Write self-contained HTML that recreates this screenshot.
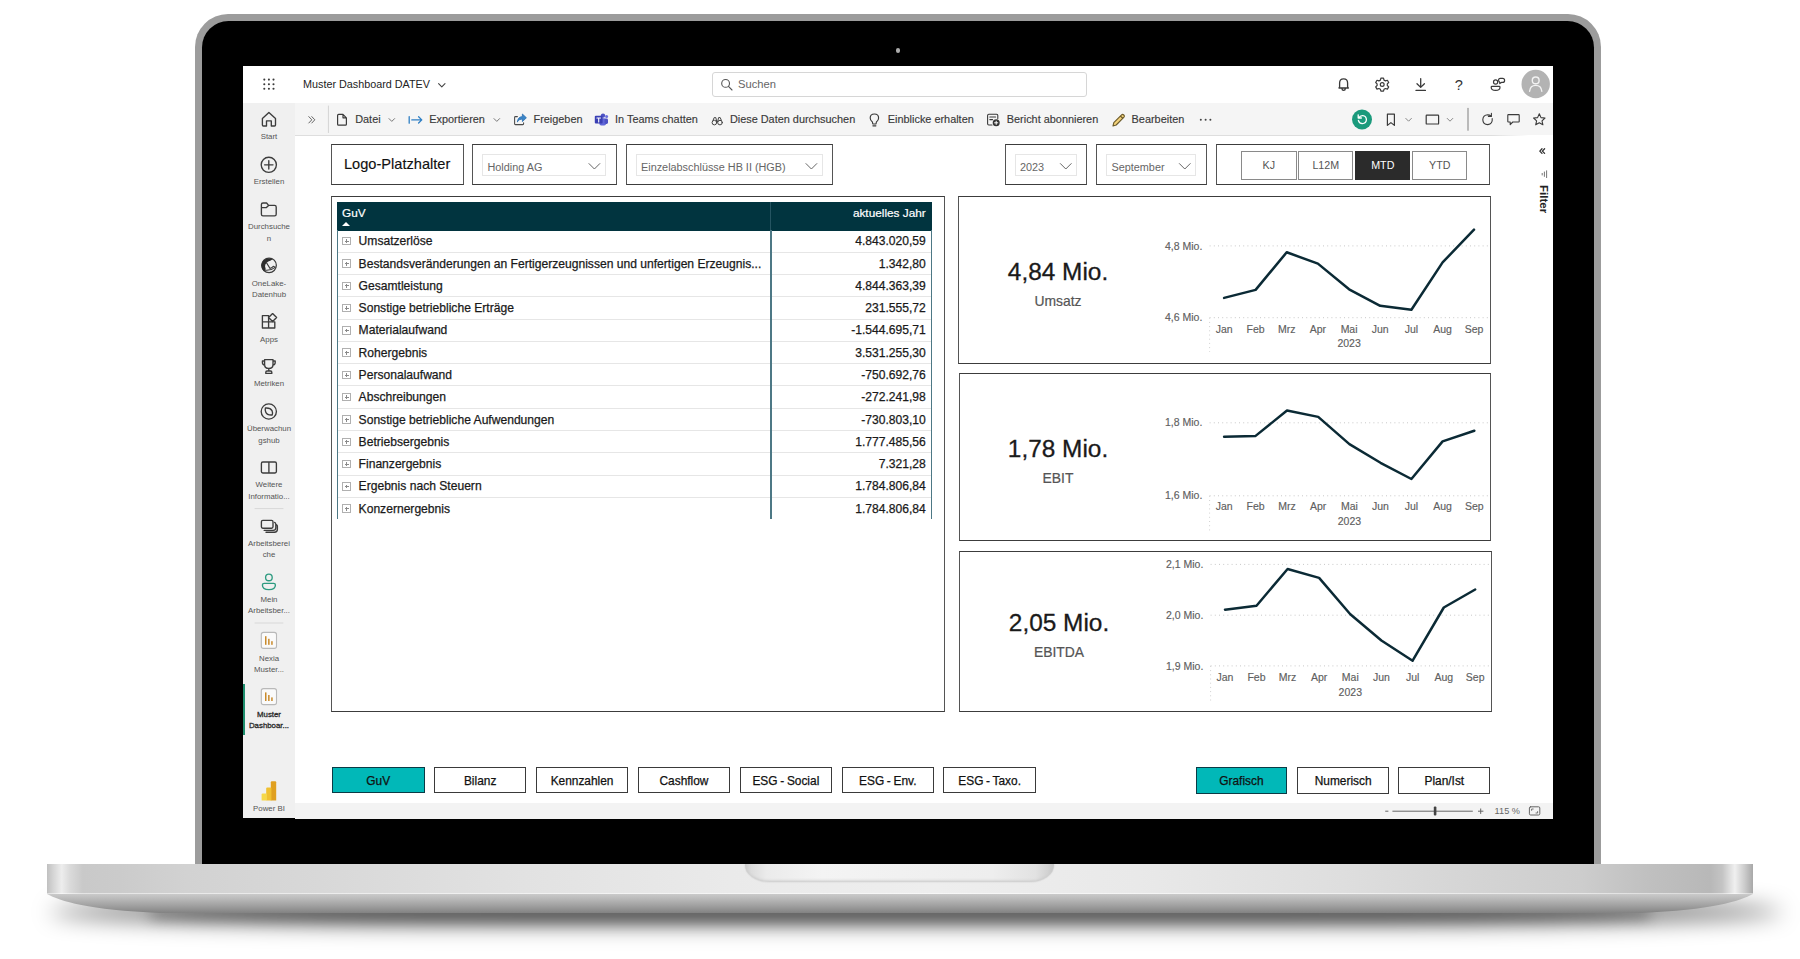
<!DOCTYPE html>
<html lang="de"><head><meta charset="utf-8"><title>Muster Dashboard DATEV</title>
<style>
html,body{margin:0;padding:0;background:#fff;}
body{width:1800px;height:959px;overflow:hidden;font-family:"Liberation Sans",sans-serif;}
#root{position:relative;width:1800px;height:959px;overflow:hidden;background:#fff;}
#root div,#root span,#root svg{position:absolute;box-sizing:border-box;}
/* laptop */
#shadow{left:50px;top:899px;width:1732px;height:26px;background:rgba(0,0,0,.54);filter:blur(11px);border-radius:50%/100%;}
#shadow2{left:150px;top:906px;width:1500px;height:16px;background:rgba(0,0,0,.38);filter:blur(7px);border-radius:30%;}
#lid{left:195px;top:14px;width:1406px;height:851px;background:#9c9c9c;border-radius:33px 33px 0 0;}
#bezel{left:202px;top:21px;width:1392px;height:844px;background:#000;border-radius:26.5px 26.5px 0 0;}
#cam{left:895.7px;top:47.8px;width:4.8px;height:4.8px;border-radius:50%;background:#ababab;}
#base{left:47px;top:864px;width:1706px;height:30.2px;background:linear-gradient(90deg,#c0c0c0 0,#d4d4d4 .35%,#ededed .86%,#dadada 1.35%,#c9c9c9 2.1%,#cbcbcb 4.3%,#d2d2d2 8.2%,#d8d8d8 16%,#e2e2e2 28%,#eaeaea 40%,#eeeeee 52%,#e9e9e9 64%,#dedede 76%,#d4d4d4 84%,#cdcdcd 89.9%,#c0c0c0 93.8%,#b8b8b8 97.5%,#c4c4c4 98.2%,#f0f0f0 98.94%,#cccccc 99.5%,#a8a8a8 100%);border-bottom:1px solid rgba(255,255,255,.5);}
#basebot{left:0;top:0;}
#notch{left:745px;top:864px;width:309px;height:18.2px;background:linear-gradient(90deg,#c9c9c9 0,#dcdcdc 2%,#ebebeb 7%,#f4f4f4 25%,#f1f1f1 50%,#eeeeee 80%,#e2e2e2 94%,#d2d2d2 98%,#c4c4c4 100%);border-radius:0 0 24px 24px/0 0 17px 17px;box-shadow:inset 0 -2.5px 2.5px -1px #cdcdcd, 0 0 1.5px rgba(0,0,0,.18);}
/* screen */
#screen{left:243px;top:66.3px;width:1310px;height:752.2px;background:#fff;overflow:hidden;}
#hdr{left:243px;top:66.3px;width:1310px;height:37.2px;background:#fff;}
#nav{left:243px;top:103.4px;width:52px;height:715.1px;background:#f0f0f0;}
#tool{left:295px;top:103.4px;width:1258px;height:31.8px;background:#f5f5f5;}
#toolline{left:295px;top:134.9px;width:1234px;height:1px;background:linear-gradient(90deg,#dedede 0,#dedede 97%,#fff 100%);}
#status{left:295px;top:802.5px;width:1258px;height:16px;background:#f3f3f3;}
.t{white-space:nowrap;line-height:1;}
.box{border:1.8px solid #3c3c3c;border-left-color:#555;border-right-color:#555;background:#fff;}
.btn{border:1.5px solid #3a3a3a;background:#fff;font-size:11.9px;color:#111;text-align:center;line-height:26.6px;height:26.3px;width:92.5px;-webkit-text-stroke:.25px #111;word-spacing:-.6px;}
.btn.on{background:#01b8b8;border-color:#0a3b45;}
.seg{border:1.2px solid #8a8a8a;background:#fff;font-size:10.7px;color:#555;text-align:center;line-height:26px;height:28.4px;top:151.2px;}
.seg.on{background:#2b2b2b;border-color:#2b2b2b;color:#fff;}
.dd{border:1px solid #e6e6e6;}
.ddt{font-size:10.85px;color:#666;white-space:nowrap;line-height:1;}
/* table */
#tbl{left:0;top:0;width:0;height:0;}
.th{left:337px;top:202.4px;width:594.5px;height:28.5px;background:#01343f;color:#fff;font-size:11.8px;-webkit-text-stroke:.2px #fff;}
.thl{left:5px;top:5.8px;line-height:1;}
.thr{right:5.8px;top:5.8px;line-height:1;}
.sortarrow{left:5.4px;top:19.8px;width:0;height:0;border-left:4.5px solid transparent;border-right:4.5px solid transparent;border-bottom:4.5px solid #fff;}
.tr{left:338px;width:593px;height:22.28px;border-bottom:1px solid #e6e6e6;font-size:12.1px;color:#1a1a1a;-webkit-text-stroke:.25px #1a1a1a;}
.pm{left:4.4px;top:6.6px;width:8.4px;height:8.4px;border:1px solid #b0b0b0;}
.pm:before{content:"";position:absolute;left:1.4px;top:2.8px;width:3.8px;height:1px;background:#8a8a8a;}
.pm:after{content:"";position:absolute;left:2.8px;top:1.4px;width:1px;height:3.8px;background:#8a8a8a;}
.rl{left:20.6px;top:4.8px;line-height:1;white-space:nowrap;}
.rv{right:5.2px;top:4.8px;line-height:1;white-space:nowrap;}
.vline1{left:336.9px;top:230px;width:1.5px;height:288.6px;background:#4d7885;}
.vline2{left:770px;top:230px;width:1.5px;height:288.6px;background:#4d7885;}
.vline3{left:930.8px;top:230px;width:1.5px;height:288.6px;background:#4d7885;}
/* charts */
.big{font-size:25px;color:#1a1a1a;white-space:nowrap;line-height:1;text-align:center;width:200px;}
.sub{font-size:13.6px;color:#5a5a5a;white-space:nowrap;line-height:1;text-align:center;width:200px;}
svg text{font-family:"Liberation Sans",sans-serif;}
/* nav */
.nl{font-size:7.85px;color:#555;text-align:center;line-height:11.3px;width:52px;left:243px;white-space:nowrap;}
.ti{font-size:10.9px;color:#3a3a3a;-webkit-text-stroke:.15px #3a3a3a;white-space:nowrap;line-height:1;top:114.1px;}
.vline4{left:770px;top:202.4px;width:1.4px;height:28px;background:#255461;}

</style></head>
<body>
<div id="root">
<div id="shadow"></div><div id="shadow2"></div>
<div id="lid"></div><div id="bezel"></div><div id="cam"></div>
<div id="base"></div><svg id="basebot" width="1800" height="959" viewBox="0 0 1800 959"><defs><linearGradient id="bbg" x1="0" y1="0" x2="0" y2="1"><stop offset="0" stop-color="#cacaca"/><stop offset=".3" stop-color="#b6b6b6"/><stop offset=".7" stop-color="#9a9a9a"/><stop offset="1" stop-color="#828282"/></linearGradient></defs><path d="M47 894 H1753 C1740 901 1712 910 1640 913 H160 C88 910 60 901 47 894 Z" fill="url(#bbg)"/></svg><div id="notch"></div>
<div id="screen"></div>
<div id="hdr"></div><div id="nav"></div><div id="tool"></div><div id="toolline"></div><div id="status"></div>
<!-- header -->
<div class="t" style="left:303px;top:79px;font-size:10.8px;color:#222;">Muster Dashboard DATEV</div>
<div style="left:711.5px;top:71.5px;width:375px;height:25.5px;border:1px solid #d6d6d6;border-radius:3px;background:#fff;"></div>
<div class="t" style="left:738px;top:79px;font-size:11.2px;color:#666;">Suchen</div>
<!-- slicers -->
<div class="box" style="left:330.8px;top:143.8px;width:133px;height:41.2px;"></div>
<div class="t" style="left:344px;top:157.4px;font-size:14.6px;color:#111;-webkit-text-stroke:.15px #111;">Logo-Platzhalter</div>
<div class="box" style="left:472px;top:143.8px;width:144.6px;height:41.2px;"></div>
<div class="dd" style="left:482px;top:154px;width:124px;height:22px;"></div>
<div class="ddt" style="left:487.5px;top:161.5px;">Holding AG</div>
<div class="box" style="left:625.8px;top:143.8px;width:207.6px;height:41.2px;"></div>
<div class="dd" style="left:635.5px;top:154px;width:187px;height:22px;"></div>
<div class="ddt" style="left:641px;top:161.5px;">Einzelabschlüsse HB II (HGB)</div>
<div class="box" style="left:1004.6px;top:143.8px;width:82.4px;height:41.2px;"></div>
<div class="dd" style="left:1014.5px;top:154px;width:62px;height:22px;"></div>
<div class="ddt" style="left:1020px;top:161.5px;">2023</div>
<div class="box" style="left:1096.2px;top:143.8px;width:111px;height:41.2px;"></div>
<div class="dd" style="left:1106px;top:154px;width:90px;height:22px;"></div>
<div class="ddt" style="left:1111.5px;top:161.5px;">September</div>
<div class="box" style="left:1216px;top:143.8px;width:274.2px;height:41.2px;"></div>
<div class="seg" style="left:1241px;width:55.6px;">KJ</div>
<div class="seg" style="left:1298.3px;width:55px;">L12M</div>
<div class="seg on" style="left:1355.3px;width:55px;">MTD</div>
<div class="seg" style="left:1412.3px;width:55px;">YTD</div>
<!-- table frame -->
<div class="box" style="left:331.1px;top:196.1px;width:613.7px;height:515.8px;"></div>
<!-- chart frames -->
<div class="box" style="left:958.1px;top:196.1px;width:532.7px;height:167.5px;"></div>
<div class="box" style="left:958.5px;top:373.2px;width:532.3px;height:167.9px;"></div>
<div class="box" style="left:959px;top:551.1px;width:533px;height:160.8px;"></div>
<!-- bottom buttons -->
<div class="btn on" style="left:332px;top:766.7px;">GuV</div>
<div class="btn" style="left:433.9px;top:766.7px;">Bilanz</div>
<div class="btn" style="left:535.8px;top:766.7px;">Kennzahlen</div>
<div class="btn" style="left:637.7px;top:766.7px;">Cashflow</div>
<div class="btn" style="left:739.6px;top:766.7px;">ESG - Social</div>
<div class="btn" style="left:841.5px;top:766.7px;">ESG - Env.</div>
<div class="btn" style="left:943.4px;top:766.7px;">ESG - Taxo.</div>
<div class="btn on" style="left:1195.6px;top:767.3px;width:91.7px;">Grafisch</div>
<div class="btn" style="left:1297.3px;top:767.3px;width:91.7px;">Numerisch</div>
<div class="btn" style="left:1398.2px;top:767.3px;width:92.3px;">Plan/Ist</div>

<!-- left nav icons & labels -->
<svg id="navsvg" style="left:0;top:0" width="1800" height="959" viewBox="0 0 1800 959" fill="none" stroke="#3c3c3c" stroke-width="1.35" stroke-linejoin="round" stroke-linecap="round">
<!-- home -->
<path d="M262.4 118.6 L268.9 112.4 L275.5 118.6 V125 Q275.5 126 274.5 126 H271.3 V120.8 H266.5 V126 H263.4 Q262.4 126 262.4 125 Z"/>
<!-- create -->
<circle cx="268.8" cy="164.8" r="7.6"/><path d="M268.8 160.6 V169 M264.6 164.8 H273"/>
<!-- folder -->
<path d="M261.4 214.2 V204.6 Q261.4 203 263 203 H266.6 L268.6 205.4 H274.6 Q276.2 205.4 276.2 207 V214.2 Q276.2 215.8 274.6 215.8 H263 Q261.4 215.8 261.4 214.2 Z M261.4 207.6 H266.4 L268.6 205.4"/>
<!-- onelake -->
<circle cx="269.05" cy="265.3" r="7.3" stroke-width="1.25"/>
<path d="M272.6 259.3 A7.9 7.9 0 0 0 261.2 265.3 A7.9 7.9 0 0 0 264.2 271.4 L265 270.4 Q265.9 269.6 265.6 268.4 Q264.7 266.4 265.3 264.7 Q266 262.9 267.5 261.9 Q268.8 261 270.3 260.7 Z" fill="#2e2e2e" stroke="none"/>
<path d="M266.4 262.6 L270 268.4 Q272.4 267.8 273.3 266.3 L275.2 267.2 M265.2 270.2 Q270.8 270.8 275.2 267.3" stroke-width="1.05"/>
<!-- apps -->
<path d="M262.4 315.6 H268.6 V321.8 H262.4 Z M262.4 321.8 H268.6 V328 H262.4 Z M268.6 321.8 H274.8 V328 H268.6 Z"/>
<path d="M272.6 313.6 L276.6 317.6 L272.6 321.6 L268.6 317.6 Z"/>
<!-- trophy -->
<path d="M264.6 359.6 H273 V364.4 Q273 368.4 268.8 368.4 Q264.6 368.4 264.6 364.4 Z M264.6 361 H262.4 V362.6 Q262.4 365 264.8 365.4 M273 361 H275.2 V362.6 Q275.2 365 272.8 365.4 M268.8 368.4 V371 M265.8 373.4 V372.2 Q265.8 371 267 371 H270.6 Q271.8 371 271.8 372.2 V373.4 Z"/>
<!-- monitor hub -->
<circle cx="268.8" cy="411.5" r="7.6"/>
<path d="M265.4 408 Q270.4 407.6 272 410.6 Q273 413.2 272.2 415 Q267.2 415.4 265.8 412.2 Q264.8 410 265.4 408 Z"/>
<!-- learn (book) -->
<path d="M261.4 463.4 Q261.4 462 262.8 462 H268.9 V473 H262.8 Q261.4 473 261.4 471.6 Z M268.9 462 H275 Q276.4 462 276.4 463.4 V471.6 Q276.4 473 275 473 H268.9"/>
<!-- workspaces -->
<rect x="261.4" y="520.4" width="11.6" height="7.8" rx="1.4"/>
<path d="M274.6 522.4 Q275.8 522.8 275.8 524.2 V527.8 Q275.8 530.4 273.2 530.4 H264.2 M276.6 524.8 Q277.4 525.2 277.4 526.4 V529.2 Q277.4 532.2 274.4 532.2 H266"/>
<!-- my workspace (green) -->
<g stroke="#2d9b80"><circle cx="268.9" cy="577.4" r="3.3"/><path d="M264.2 583.4 H273.6 Q275.4 583.4 275.4 585 Q275.4 589.6 268.9 589.6 Q262.4 589.6 262.4 585 Q262.4 583.4 264.2 583.4 Z"/></g>
<!-- separators -->
<path d="M255 508.6 H283" stroke="#d8d8d8" stroke-width="1"/><path d="M255 623 H283" stroke="#d8d8d8" stroke-width="1"/>
<!-- report tiles -->
<g stroke="#b9b9b9" stroke-width="1.1" fill="#fafafa"><rect x="261.3" y="632.4" width="15.2" height="16" rx="2.2"/><rect x="261.3" y="688.6" width="15.2" height="16" rx="2.2"/></g>
<g stroke="none" fill="#c98a2b"><rect x="265" y="636.2" width="1.5" height="8.6"/><rect x="268.1" y="638.8" width="1.5" height="6"/><rect x="271.2" y="641.2" width="1.5" height="3.6"/>
<rect x="265" y="692.4" width="1.5" height="8.6"/><rect x="268.1" y="695" width="1.5" height="6"/><rect x="271.2" y="697.4" width="1.5" height="3.6"/></g>
<!-- power bi -->
<g stroke="none"><path d="M270.8 782.2 Q270.8 781.2 271.8 781.2 H275.2 Q276.2 781.2 276.2 782.2 V800.4 H270.8 Z" fill="#e0a020"/>
<path d="M266.2 788.6 Q266.2 787.6 267.2 787.6 H270.4 Q271.4 787.6 271.4 788.6 V800.4 H266.2 Z" fill="#f0c030"/>
<path d="M261.6 794.4 Q261.6 793.4 262.6 793.4 H265.8 Q266.8 793.4 266.8 794.4 V799.4 Q266.8 800.4 265.8 800.4 H261.6 Z" fill="#f6d84a"/></g>
</svg>
<div style="left:243.2px;top:683.6px;width:1.7px;height:51px;background:#1f8f6f;"></div>
<div class="nl" style="top:131.4px">Start</div>
<div class="nl" style="top:176.4px">Erstellen</div>
<div class="nl" style="top:221.4px">Durchsuche<br>n</div>
<div class="nl" style="top:277.5px">OneLake-<br>Datenhub</div>
<div class="nl" style="top:333.5px">Apps</div>
<div class="nl" style="top:378px">Metriken</div>
<div class="nl" style="top:423.3px">Überwachun<br>gshub</div>
<div class="nl" style="top:479.4px">Weitere<br>Informatio...</div>
<div class="nl" style="top:537.6px">Arbeitsberei<br>che</div>
<div class="nl" style="top:594px">Mein<br>Arbeitsber...</div>
<div class="nl" style="top:652.5px">Nexia<br>Muster...</div>
<div class="nl" style="top:708.6px;color:#2a2a2a;-webkit-text-stroke:.3px #2a2a2a;">Muster<br>Dashboar...</div>
<div class="nl" style="top:803px">Power BI</div>
<!-- header + toolbar icons -->
<svg id="toolsvg" style="left:0;top:0" width="1800" height="959" viewBox="0 0 1800 959" fill="none" stroke="#3a3a3a" stroke-width="1.2" stroke-linejoin="round" stroke-linecap="round">
<!-- waffle -->
<g fill="#3a3a3a" stroke="none">
<circle cx="264.3" cy="79.6" r="1.05"/><circle cx="268.9" cy="79.6" r="1.05"/><circle cx="273.5" cy="79.6" r="1.05"/>
<circle cx="264.3" cy="84.2" r="1.05"/><circle cx="268.9" cy="84.2" r="1.05"/><circle cx="273.5" cy="84.2" r="1.05"/>
<circle cx="264.3" cy="88.8" r="1.05"/><circle cx="268.9" cy="88.8" r="1.05"/><circle cx="273.5" cy="88.8" r="1.05"/>
</g>
<!-- title chevron -->
<path d="M438.6 83.6 L441.8 86.8 L445 83.6" stroke="#444" stroke-width="1.1"/>
<!-- search icon -->
<circle cx="725.6" cy="83.4" r="3.9" stroke="#555" stroke-width="1.1"/><path d="M728.5 86.4 L732 90" stroke="#555" stroke-width="1.1"/>
<!-- bell -->
<path d="M1339 88 Q1339.2 87.4 1339.6 86.8 V83 Q1339.6 78.9 1343.6 78.9 Q1347.6 78.9 1347.6 83 V86.8 Q1348 87.4 1348.4 88 Z M1341.9 88.4 Q1342 90.3 1343.6 90.3 Q1345.3 90.3 1345.4 88.4" stroke-width="1.3"/>
<!-- gear -->
<circle cx="1382.2" cy="84.5" r="1.9" stroke-width="1.2"/>
<path d="M1380.9 78.2 h2.6 l.5 1.9 l1.5 .8 l1.9 -.6 l1.3 2.2 l-1.4 1.4 v1.6 l1.4 1.4 l-1.3 2.2 l-1.9 -.6 l-1.5 .8 l-.5 1.9 h-2.6 l-.5 -1.9 l-1.5 -.8 l-1.9 .6 l-1.3 -2.2 l1.4 -1.4 v-1.6 l-1.4 -1.4 l1.3 -2.2 l1.9 .6 l1.5 -.8 z" stroke-width="1.2"/>
<!-- download -->
<path d="M1420.7 78.6 V87.2 M1417 83.8 L1420.7 87.4 L1424.4 83.8 M1416 90.4 H1425.4" stroke-width="1.3"/>
<!-- people feedback -->
<circle cx="1495.6" cy="82" r="2.1" stroke-width="1.2"/>
<path d="M1492 86.4 H1499.2 Q1500 86.4 1500 87.2 Q1500 90.4 1495.6 90.4 Q1491.2 90.4 1491.2 87.2 Q1491.2 86.4 1492 86.4 Z" stroke-width="1.2"/>
<path d="M1498.6 80.4 Q1498.4 78.4 1500.4 78.4 H1502.6 Q1504.6 78.4 1504.6 80.4 Q1504.6 82.4 1502.6 82.4 H1501.4 L1499.8 83.6 V82.2 Q1498.8 81.8 1498.6 80.4 Z" stroke-width="1.2"/>
<!-- avatar -->
<circle cx="1535.7" cy="84" r="14.2" fill="#b3b3b3" stroke="none"/>
<circle cx="1535.7" cy="80.4" r="3.4" stroke="#f2f2f2" stroke-width="1.4"/>
<path d="M1529.6 91.2 Q1530.2 85.4 1535.7 85.4 Q1541.2 85.4 1541.8 91.2" stroke="#f2f2f2" stroke-width="1.4"/>
<!-- toolbar: expand chevrons -->
<path d="M308.8 116.6 L311.8 119.8 L308.8 123 M311.8 116.6 L314.8 119.8 L311.8 123" stroke="#666" stroke-width="1"/>
<path d="M328.4 106 V132.6" stroke="#d4d4d4" stroke-width="1"/>
<!-- file -->
<path d="M337.6 115.4 Q337.6 114.4 338.6 114.4 H343 L346.4 117.8 V124.2 Q346.4 125.2 345.4 125.2 H338.6 Q337.6 125.2 337.6 124.2 Z M343 114.4 V117.8 H346.4"/>
<path d="M389 118.6 L391.8 121.4 L394.6 118.6" stroke="#777" stroke-width="1"/>
<!-- export -->
<path d="M409.2 116.6 V123.2 M411.8 119.9 H421.6 M418.6 116.8 L421.8 119.9 L418.6 123" stroke="#2f7fc4" stroke-width="1.3"/>
<path d="M494 118.6 L496.8 121.4 L499.6 118.6" stroke="#777" stroke-width="1"/>
<!-- share -->
<path d="M517.4 116.6 H515.4 Q514.6 116.6 514.6 117.4 V123.8 Q514.6 124.6 515.4 124.6 H522.8 Q523.6 124.6 523.6 123.8 V122.8" stroke="#4a4a4a" stroke-width="1.05"/>
<path d="M517.4 121.6 Q518 116.8 522.4 116.6 V114 L526.4 117.8 L522.4 121.6 V119 Q519.4 118.8 517.4 121.6 Z" fill="#3a85c8" stroke="#2b6fb0" stroke-width=".8"/>
<!-- teams -->
<g stroke="none"><circle cx="603" cy="115.6" r="2.2" fill="#4d52c4"/><circle cx="606.6" cy="116.6" r="1.5" fill="#6a70dc"/>
<rect x="599.4" y="118.2" width="6.6" height="7.4" rx="1.8" fill="#6067d8"/><rect x="604.6" y="118.6" width="3.4" height="5.4" rx="1.4" fill="#4d52c4"/>
<rect x="594.8" y="115.8" width="7.8" height="7.8" rx="1" fill="#3a3fb4"/></g>
<path d="M596.9 118 H600.5 M598.7 118 V122" stroke="#fff" stroke-width="1.1"/>
<!-- binoculars -->
<g stroke="#444" stroke-width="1"><circle cx="714.4" cy="122.6" r="2.3"/><circle cx="720" cy="122.6" r="2.3"/><path d="M713 120.4 L714.2 117.6 H715.8 L716.6 121 M721.4 120.4 L720.2 117.6 H718.6 L717.8 121 M716.6 121.6 H717.8"/></g>
<!-- bulb -->
<path d="M872.4 122 Q870.2 120.4 870.2 118 Q870.2 114 874.4 114 Q878.6 114 878.6 118 Q878.6 120.4 876.4 122 L876 124 H872.8 Z M872.9 125.8 H875.9" stroke-width="1.15"/>
<!-- subscribe -->
<path d="M992 125 H988.8 Q987.6 125 987.6 123.8 V115.4 Q987.6 114.2 988.8 114.2 H996.6 Q997.8 114.2 997.8 115.4 V118.6 M989.8 117 H995.6 M989.8 119.6 H992.6" stroke-width="1.1"/>
<circle cx="996.2" cy="122.8" r="3.5" fill="#333" stroke="none"/><path d="M996.2 121.2 V124.4 M994.6 122.8 H997.8" stroke="#fff" stroke-width="1"/>
<!-- pencil -->
<path d="M1113 126 L1113.8 122.6 L1121.6 114.8 Q1122.6 113.8 1123.8 115 Q1125 116.2 1124 117.2 L1116.2 125 Z M1120.4 116 L1122.8 118.4" stroke="#6b5a2a" stroke-width="1.1" fill="#f3d27a"/>
<!-- more -->
<g fill="#444" stroke="none"><circle cx="1200.8" cy="119.8" r="1"/><circle cx="1205.6" cy="119.8" r="1"/><circle cx="1210.4" cy="119.8" r="1"/></g>
<!-- reset (green) -->
<circle cx="1362" cy="119.5" r="10" fill="#1b9a7c" stroke="none"/>
<path d="M1358.6 117.8 Q1360.2 115.4 1362.8 115.6 Q1366.4 116 1366.4 119.8 Q1366.2 123.4 1362.4 123.6 Q1359 123.4 1358.4 120.4 M1358.2 114.8 V118 H1361.4" stroke="#fff" stroke-width="1.3"/>
<!-- bookmark -->
<path d="M1387.4 114.2 H1394.4 V125.4 L1390.9 122.6 L1387.4 125.4 Z" stroke-width="1.2"/>
<path d="M1405.8 118.4 L1408.6 121.2 L1411.4 118.4" stroke="#888" stroke-width="1"/>
<!-- view rect -->
<rect x="1426.2" y="115.2" width="12.4" height="8.8" rx=".6" stroke-width="1.2"/>
<path d="M1447.2 118.4 L1450 121.2 L1452.8 118.4" stroke="#888" stroke-width="1"/>
<path d="M1468 108.4 V130.2" stroke="#9a9a9a" stroke-width="1.3"/>
<!-- refresh -->
<path d="M1492.2 118.6 Q1492.8 124 1487.8 124.6 Q1483 124.6 1482.8 119.8 Q1483 115 1487.8 114.8 Q1489.6 114.8 1491 116 M1491.4 113.4 V116.4 H1488.4" stroke-width="1.1"/>
<!-- comment -->
<path d="M1508.4 114.6 H1518.6 Q1519.2 114.6 1519.2 115.2 V121.4 Q1519.2 122 1518.6 122 H1512.8 L1510.2 124.6 V122 H1508.4 Q1507.8 122 1507.8 121.4 V115.2 Q1507.8 114.6 1508.4 114.6 Z" stroke-width="1.1"/>
<!-- star -->
<path d="M1539.3 113.8 L1541 117.6 L1545 118 L1542 120.8 L1542.9 124.8 L1539.3 122.7 L1535.7 124.8 L1536.6 120.8 L1533.6 118 L1537.6 117.6 Z" stroke-width="1.1"/>
<!-- filter pane -->
<path d="M1542 148.8 L1539.8 151.1 L1542 153.4 M1544.6 148.8 L1542.4 151.1 L1544.6 153.4" stroke="#333" stroke-width="1.3"/>
<path d="M1542.2 173.4 V175 M1544.4 172 V176.4 M1546.6 170.8 V177.6" stroke="#666" stroke-width=".9"/>
<!-- dropdown chevrons -->
<g stroke="#666" stroke-width="1">
<path d="M589 163.6 L594.4 169 L599.8 163.6"/>
<path d="M806 163.6 L811.4 169 L816.8 163.6"/>
<path d="M1060.4 163.6 L1065.8 169 L1071.2 163.6"/>
<path d="M1179.4 163.6 L1184.8 169 L1190.2 163.6"/>
</g>
<!-- zoom control -->
<g stroke="#666" stroke-width="1"><path d="M1385.6 811.2 H1388 M1392.8 811.2 H1472.4 M1478.4 811.2 H1483 M1480.7 808.9 V813.5"/></g>
<rect x="1433.8" y="806.6" width="2.6" height="9" rx="1" fill="#444" stroke="none"/>
<rect x="1529.4" y="806.8" width="10.4" height="8.2" rx="1.2" stroke="#666" stroke-width="1"/>
<path d="M1531.6 810.4 V809 H1533.2 M1537.6 811.6 V813 H1536" stroke="#666" stroke-width=".9"/>
</svg>
<div class="t" style="left:1454.8px;top:78px;font-size:14.6px;color:#333;">?</div>
<div class="ti" style="left:355.2px;">Datei</div>
<div class="ti" style="left:429.2px;">Exportieren</div>
<div class="ti" style="left:533.5px;">Freigeben</div>
<div class="ti" style="left:615.1px;">In Teams chatten</div>
<div class="ti" style="left:729.9px;">Diese Daten durchsuchen</div>
<div class="ti" style="left:887.8px;">Einblicke erhalten</div>
<div class="ti" style="left:1006.8px;">Bericht abonnieren</div>
<div class="ti" style="left:1131.6px;">Bearbeiten</div>
<div class="t" style="left:1494.6px;top:806.6px;font-size:9.2px;color:#666;">115 %</div>
<div class="t" style="left:1537.2px;top:185.4px;font-size:11.5px;font-weight:bold;color:#222;writing-mode:vertical-rl;">Filter</div>

<div id="tbl">
<div class="th"><span class="thl">GuV</span><span class="thr">aktuelles Jahr</span><span class="sortarrow"></span></div>
<div class="tr" style="top:230.50px"><span class="pm"></span><span class="rl">Umsatzerlöse</span><span class="rv">4.843.020,59</span></div>
<div class="tr" style="top:252.78px"><span class="pm"></span><span class="rl">Bestandsveränderungen an Fertigerzeugnissen und unfertigen Erzeugnis...</span><span class="rv">1.342,80</span></div>
<div class="tr" style="top:275.06px"><span class="pm"></span><span class="rl">Gesamtleistung</span><span class="rv">4.844.363,39</span></div>
<div class="tr" style="top:297.34px"><span class="pm"></span><span class="rl">Sonstige betriebliche Erträge</span><span class="rv">231.555,72</span></div>
<div class="tr" style="top:319.62px"><span class="pm"></span><span class="rl">Materialaufwand</span><span class="rv">-1.544.695,71</span></div>
<div class="tr" style="top:341.90px"><span class="pm"></span><span class="rl">Rohergebnis</span><span class="rv">3.531.255,30</span></div>
<div class="tr" style="top:364.18px"><span class="pm"></span><span class="rl">Personalaufwand</span><span class="rv">-750.692,76</span></div>
<div class="tr" style="top:386.46px"><span class="pm"></span><span class="rl">Abschreibungen</span><span class="rv">-272.241,98</span></div>
<div class="tr" style="top:408.74px"><span class="pm"></span><span class="rl">Sonstige betriebliche Aufwendungen</span><span class="rv">-730.803,10</span></div>
<div class="tr" style="top:431.02px"><span class="pm"></span><span class="rl">Betriebsergebnis</span><span class="rv">1.777.485,56</span></div>
<div class="tr" style="top:453.30px"><span class="pm"></span><span class="rl">Finanzergebnis</span><span class="rv">7.321,28</span></div>
<div class="tr" style="top:475.58px"><span class="pm"></span><span class="rl">Ergebnis nach Steuern</span><span class="rv">1.784.806,84</span></div>
<div class="tr" style="top:497.86px;border-bottom:none"><span class="pm"></span><span class="rl">Konzernergebnis</span><span class="rv">1.784.806,84</span></div>
<div class="vline1"></div><div class="vline2"></div><div class="vline3"></div><div class="vline4"></div>
</div>
<svg id="chsvg" style="left:0;top:0" width="1800" height="959" viewBox="0 0 1800 959">
<line x1="1209.6" y1="245.9" x2="1488" y2="245.9" stroke="#c8c8c8" stroke-width="1" stroke-dasharray="1 3.2"/>
<text x="1202.4" y="249.5" font-size="10.5" fill="#606060" stroke="#606060" stroke-width=".15" text-anchor="end">4,8 Mio.</text>
<line x1="1209.6" y1="317.7" x2="1488" y2="317.7" stroke="#c8c8c8" stroke-width="1" stroke-dasharray="1 3.2"/>
<text x="1202.4" y="321.3" font-size="10.5" fill="#606060" stroke="#606060" stroke-width=".15" text-anchor="end">4,6 Mio.</text>
<line x1="1209.6" y1="317.7" x2="1209.6" y2="352" stroke="#d0d0d0" stroke-width="1" stroke-dasharray="1 3.2"/>
<polyline points="1224.1,297.9 1255.6,289.9 1286.7,252.3 1317.9,263.6 1349.1,289.3 1380.2,305.8 1411.4,309.8 1442.6,262.4 1474.0,229.7" fill="none" stroke="#0b2a35" stroke-width="2.5" stroke-linejoin="round" stroke-linecap="round"/>
<text x="1224.1" y="332.6" font-size="10.5" fill="#606060" stroke="#606060" stroke-width=".15" text-anchor="middle">Jan</text>
<text x="1255.6" y="332.6" font-size="10.5" fill="#606060" stroke="#606060" stroke-width=".15" text-anchor="middle">Feb</text>
<text x="1286.7" y="332.6" font-size="10.5" fill="#606060" stroke="#606060" stroke-width=".15" text-anchor="middle">Mrz</text>
<text x="1317.9" y="332.6" font-size="10.5" fill="#606060" stroke="#606060" stroke-width=".15" text-anchor="middle">Apr</text>
<text x="1349.1" y="332.6" font-size="10.5" fill="#606060" stroke="#606060" stroke-width=".15" text-anchor="middle">Mai</text>
<text x="1380.2" y="332.6" font-size="10.5" fill="#606060" stroke="#606060" stroke-width=".15" text-anchor="middle">Jun</text>
<text x="1411.4" y="332.6" font-size="10.5" fill="#606060" stroke="#606060" stroke-width=".15" text-anchor="middle">Jul</text>
<text x="1442.6" y="332.6" font-size="10.5" fill="#606060" stroke="#606060" stroke-width=".15" text-anchor="middle">Aug</text>
<text x="1474.0" y="332.6" font-size="10.5" fill="#606060" stroke="#606060" stroke-width=".15" text-anchor="middle">Sep</text>
<text x="1349.1" y="347.3" font-size="10.5" fill="#606060" stroke="#606060" stroke-width=".15" text-anchor="middle">2023</text>
<text x="1058" y="280.1" font-size="24.4" fill="#1a1a1a" stroke="#1a1a1a" stroke-width=".3" text-anchor="middle">4,84 Mio.</text>
<text x="1058" y="305.5" font-size="13.9" fill="#555" stroke="#555" stroke-width=".2" text-anchor="middle">Umsatz</text>
<line x1="1209.6" y1="422.8" x2="1488" y2="422.8" stroke="#c8c8c8" stroke-width="1" stroke-dasharray="1 3.2"/>
<text x="1202.4" y="426.40000000000003" font-size="10.5" fill="#606060" stroke="#606060" stroke-width=".15" text-anchor="end">1,8 Mio.</text>
<line x1="1209.6" y1="495.8" x2="1488" y2="495.8" stroke="#c8c8c8" stroke-width="1" stroke-dasharray="1 3.2"/>
<text x="1202.4" y="499.40000000000003" font-size="10.5" fill="#606060" stroke="#606060" stroke-width=".15" text-anchor="end">1,6 Mio.</text>
<line x1="1209.6" y1="495.8" x2="1209.6" y2="531" stroke="#d0d0d0" stroke-width="1" stroke-dasharray="1 3.2"/>
<polyline points="1224.1,436.8 1255.6,435.9 1287.0,410.5 1318.2,416.9 1349.4,444.1 1380.5,462.8 1411.4,479.0 1442.6,441.4 1474.3,430.7" fill="none" stroke="#0b2a35" stroke-width="2.5" stroke-linejoin="round" stroke-linecap="round"/>
<text x="1224.1" y="510.1" font-size="10.5" fill="#606060" stroke="#606060" stroke-width=".15" text-anchor="middle">Jan</text>
<text x="1255.6" y="510.1" font-size="10.5" fill="#606060" stroke="#606060" stroke-width=".15" text-anchor="middle">Feb</text>
<text x="1287.0" y="510.1" font-size="10.5" fill="#606060" stroke="#606060" stroke-width=".15" text-anchor="middle">Mrz</text>
<text x="1318.2" y="510.1" font-size="10.5" fill="#606060" stroke="#606060" stroke-width=".15" text-anchor="middle">Apr</text>
<text x="1349.4" y="510.1" font-size="10.5" fill="#606060" stroke="#606060" stroke-width=".15" text-anchor="middle">Mai</text>
<text x="1380.5" y="510.1" font-size="10.5" fill="#606060" stroke="#606060" stroke-width=".15" text-anchor="middle">Jun</text>
<text x="1411.4" y="510.1" font-size="10.5" fill="#606060" stroke="#606060" stroke-width=".15" text-anchor="middle">Jul</text>
<text x="1442.6" y="510.1" font-size="10.5" fill="#606060" stroke="#606060" stroke-width=".15" text-anchor="middle">Aug</text>
<text x="1474.3" y="510.1" font-size="10.5" fill="#606060" stroke="#606060" stroke-width=".15" text-anchor="middle">Sep</text>
<text x="1349.4" y="525.4" font-size="10.5" fill="#606060" stroke="#606060" stroke-width=".15" text-anchor="middle">2023</text>
<text x="1058" y="456.7" font-size="24.4" fill="#1a1a1a" stroke="#1a1a1a" stroke-width=".3" text-anchor="middle">1,78 Mio.</text>
<text x="1058" y="482.6" font-size="13.9" fill="#555" stroke="#555" stroke-width=".2" text-anchor="middle">EBIT</text>
<line x1="1210.6" y1="564.4" x2="1489" y2="564.4" stroke="#c8c8c8" stroke-width="1" stroke-dasharray="1 3.2"/>
<text x="1203.4" y="568.0" font-size="10.5" fill="#606060" stroke="#606060" stroke-width=".15" text-anchor="end">2,1 Mio.</text>
<line x1="1210.6" y1="615.2" x2="1489" y2="615.2" stroke="#c8c8c8" stroke-width="1" stroke-dasharray="1 3.2"/>
<text x="1203.4" y="618.8000000000001" font-size="10.5" fill="#606060" stroke="#606060" stroke-width=".15" text-anchor="end">2,0 Mio.</text>
<line x1="1210.6" y1="665.9" x2="1489" y2="665.9" stroke="#c8c8c8" stroke-width="1" stroke-dasharray="1 3.2"/>
<text x="1203.4" y="669.5" font-size="10.5" fill="#606060" stroke="#606060" stroke-width=".15" text-anchor="end">1,9 Mio.</text>
<line x1="1210.6" y1="665.9" x2="1210.6" y2="701" stroke="#d0d0d0" stroke-width="1" stroke-dasharray="1 3.2"/>
<polyline points="1225.0,609.7 1256.5,605.7 1287.6,569.0 1319.1,577.9 1350.3,614.3 1381.4,640.5 1412.6,660.7 1443.8,607.5 1475.2,589.5" fill="none" stroke="#0b2a35" stroke-width="2.5" stroke-linejoin="round" stroke-linecap="round"/>
<text x="1225.0" y="681.1" font-size="10.5" fill="#606060" stroke="#606060" stroke-width=".15" text-anchor="middle">Jan</text>
<text x="1256.5" y="681.1" font-size="10.5" fill="#606060" stroke="#606060" stroke-width=".15" text-anchor="middle">Feb</text>
<text x="1287.6" y="681.1" font-size="10.5" fill="#606060" stroke="#606060" stroke-width=".15" text-anchor="middle">Mrz</text>
<text x="1319.1" y="681.1" font-size="10.5" fill="#606060" stroke="#606060" stroke-width=".15" text-anchor="middle">Apr</text>
<text x="1350.3" y="681.1" font-size="10.5" fill="#606060" stroke="#606060" stroke-width=".15" text-anchor="middle">Mai</text>
<text x="1381.4" y="681.1" font-size="10.5" fill="#606060" stroke="#606060" stroke-width=".15" text-anchor="middle">Jun</text>
<text x="1412.6" y="681.1" font-size="10.5" fill="#606060" stroke="#606060" stroke-width=".15" text-anchor="middle">Jul</text>
<text x="1443.8" y="681.1" font-size="10.5" fill="#606060" stroke="#606060" stroke-width=".15" text-anchor="middle">Aug</text>
<text x="1475.2" y="681.1" font-size="10.5" fill="#606060" stroke="#606060" stroke-width=".15" text-anchor="middle">Sep</text>
<text x="1350.3" y="695.8000000000001" font-size="10.5" fill="#606060" stroke="#606060" stroke-width=".15" text-anchor="middle">2023</text>
<text x="1059" y="631" font-size="24.4" fill="#1a1a1a" stroke="#1a1a1a" stroke-width=".3" text-anchor="middle">2,05 Mio.</text>
<text x="1059" y="657" font-size="13.9" fill="#555" stroke="#555" stroke-width=".2" text-anchor="middle">EBITDA</text>
</svg>
</div>
</body></html>
